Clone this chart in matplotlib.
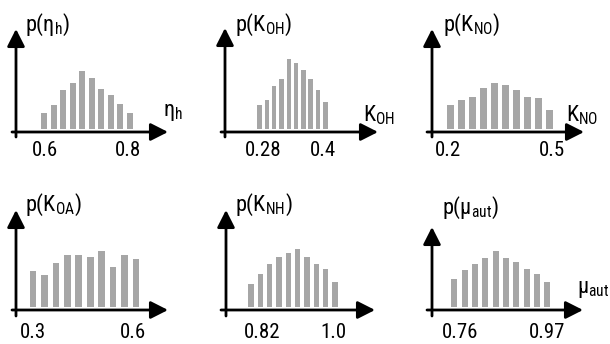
import matplotlib
matplotlib.use('Agg')
import matplotlib.pyplot as plt
from matplotlib import font_manager

# Font: a narrow sans if we have it.
fonts = font_manager.fontManager.ttflist
available = {f.name for f in fonts}
font_main = 'Liberation Sans'
font_stretch = 'normal'
for name in ['Liberation Sans Narrow', 'Arial Narrow', 'Roboto Condensed']:
    if name in available:
        font_main = name
        break
else:
    if any(f.name == 'DejaVu Sans' and f.stretch == 'condensed' for f in fonts):
        font_main, font_stretch = 'DejaVu Sans', 'condensed'

plt.rcParams['font.family'] = [font_main, 'DejaVu Sans']
plt.rcParams['font.stretch'] = font_stretch
rm = font_main if font_stretch == 'normal' else f'{font_main}:{font_stretch}'
plt.rcParams['mathtext.fontset'] = 'custom'
plt.rcParams['mathtext.rm'] = rm
plt.rcParams['mathtext.it'] = rm
plt.rcParams['mathtext.sf'] = rm
plt.rcParams['mathtext.default'] = 'rm'

''' ********************************** DATA ********************************** '''
titles = [r'$\mathrm{p(η_h)}$', r'$\mathrm{p(K_{OH})}$', r'$\mathrm{p(K_{NO})}$',
          r'$\mathrm{p(K_{OA})}$', r'$\mathrm{p(K_{NH})}$', r'$\mathrm{p(μ_{aut})}$']
x_labels = [r'$\mathrm{η_h}$', r'$\mathrm{K_{OH}}$', r'$\mathrm{K_{NO}}$',
            '', '', r'$\mathrm{μ_{aut}}$']
tick_values = [(0.6, 0.8), (0.28, 0.4), (0.2, 0.5), (0.3, 0.6), (0.82, 1.0), (0.76, 0.97)]
tick_labels = [('0.6', '0.8'), ('0.28', '0.4'), ('0.2', '0.5'), ('0.3', '0.6'), ('0.82', '1.0'), ('0.76', '0.97')]

# Bin centres of each histogram.
eta_h_bins = [0.598, 0.621, 0.644, 0.667, 0.690, 0.713, 0.735, 0.758, 0.781, 0.804]
k_oh_bins = [0.273, 0.288, 0.302, 0.317, 0.332, 0.346, 0.361, 0.375, 0.390, 0.405]
k_no_bins = [0.206, 0.238, 0.270, 0.302, 0.334, 0.366, 0.398, 0.430, 0.462, 0.494]
k_oa_bins = [0.300, 0.334, 0.369, 0.403, 0.437, 0.472, 0.506, 0.540, 0.574, 0.609]
k_nh_bins = [0.792, 0.816, 0.839, 0.863, 0.887, 0.910, 0.934, 0.958, 0.981, 1.005]
mu_aut_bins = [0.746, 0.771, 0.796, 0.821, 0.846, 0.871, 0.896, 0.921, 0.946, 0.970]

# Relative frequencies (arbitrary units).
eta_h_freq = [16, 23.7, 38.7, 46, 58.3, 51, 40, 34.3, 25.3, 16]
k_oh_freq = [24.3, 29.3, 42.7, 49.7, 70.3, 66.3, 59.3, 49.7, 39, 26.7]
k_no_freq = [24.3, 29.3, 32.3, 40.7, 45.7, 44, 39, 32.3, 31, 19.3]
k_oa_freq = [36, 31.7, 44, 52, 52, 50, 56, 40, 52, 47.7]
k_nh_freq = [23.3, 33.3, 43.3, 50, 54, 58, 50, 43.3, 37.7, 25]
mu_aut_freq = [28.3, 36.7, 43.3, 48.7, 55.7, 48.7, 45.3, 38.3, 33, 24.7]

bins = [eta_h_bins, k_oh_bins, k_no_bins, k_oa_bins, k_nh_bins, mu_aut_bins]
freqs = [eta_h_freq, k_oh_freq, k_no_freq, k_oa_freq, k_nh_freq, mu_aut_freq]

''' ********************************* LAYOUT ********************************* '''
W, H = 610, 344
# Per panel, in image pixels: x-axis y, y-axis x, x-axis start, arrow tip, y arrow top, y-axis bottom.
axis_y = [132, 132, 132, 310, 310, 310]
axis_x = [16, 225, 432, 16, 226, 432]
x_start = [12, 221, 427, 12, 221, 427]
x_end = [168, 378, 584, 168, 375, 583]
y_top = [29, 28, 29, 210, 210, 227]
y_bottom = [137, 137, 137, 316, 316, 316]
tick_px = [(45, 128), (263, 323), (448, 552), (33, 133), (262, 333), (460, 547)]
tick_label_y = [151, 151, 151, 332, 332, 332]
title_pos = [(25, 25), (235, 25), (443, 25), (25, 205), (235, 205), (442, 208)]
xlabel_pos = [(163, 113), (363, 115), (566, 115), (0, 0), (0, 0), (577, 290)]
bar_frac = [0.62, 0.55, 0.62, 0.6, 0.6, 0.58]
bar_color = '#a6a6a6'
tick_size = 15
label_size = 16

fig = plt.figure(figsize=(W / 100, H / 100), dpi=100)

for i in range(6):
    left, right = x_start[i], x_end[i]
    top, bottom = y_top[i], y_bottom[i]
    ax = fig.add_axes([left / W, (H - bottom) / H, (right - left) / W, (bottom - top) / H])
    ax.axis('off')

    (v1, v2), (p1, p2) = tick_values[i], tick_px[i]
    scale = (v2 - v1) / (p2 - p1)
    ax.set_xlim(v1 + (left - p1) * scale, v1 + (right - p1) * scale)
    base = axis_y[i] - 3  # bars stand a little above the axis line
    ax.set_ylim(-(bottom - base), base - top)

    spacing = bins[i][1] - bins[i][0]
    ax.bar(bins[i], freqs[i], width=bar_frac[i] * spacing, color=bar_color, linewidth=0)

    # Arrows for the axes.
    fy = (bottom - axis_y[i]) / (bottom - top)
    fx = (axis_x[i] - left) / (right - left)
    arrow = dict(arrowstyle='-|>,head_length=0.75,head_width=0.38', mutation_scale=14,
                 lw=2, color='black', shrinkA=0, shrinkB=0)
    ax.annotate('', xy=(1, fy), xytext=(0, fy), xycoords='axes fraction', arrowprops=arrow)
    ax.annotate('', xy=(fx, 1), xytext=(fx, 0), xycoords='axes fraction', arrowprops=arrow)

    # Tick labels.
    for v, lab in zip(tick_values[i], tick_labels[i]):
        ax.text(v, -(tick_label_y[i] - base), lab, ha='center', va='center', fontsize=tick_size)

    fig.text(title_pos[i][0] / W, 1 - title_pos[i][1] / H, titles[i],
             ha='left', va='center', fontsize=label_size)
    if x_labels[i]:
        fig.text(xlabel_pos[i][0] / W, 1 - xlabel_pos[i][1] / H, x_labels[i],
                 ha='left', va='center', fontsize=label_size)

fig.savefig('out.png', dpi=100)
